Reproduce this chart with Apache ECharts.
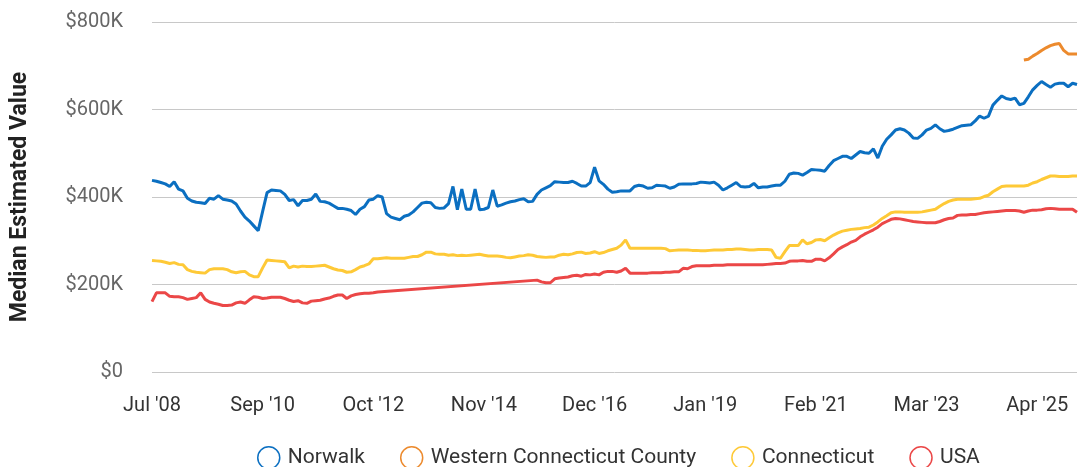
<!DOCTYPE html>
<html>
<head>
<meta charset="utf-8">
<title>Median Estimated Value</title>
<script src="https://cdn.jsdelivr.net/npm/echarts@6/dist/echarts.min.js"></script>
<style>
  html, body { margin: 0; padding: 0; background: #fff; }
  #chart { width: 1079px; height: 467px; }
</style>
</head>
<body>
<div id="chart"></div>
<script>
// monthly categories (Dec '09 is missing in the source)
const months = [
  "Jul '08", "Aug '08", "Sep '08", "Oct '08", "Nov '08", "Dec '08",
  "Jan '09", "Feb '09", "Mar '09", "Apr '09", "May '09", "Jun '09", "Jul '09", "Aug '09", "Sep '09", "Oct '09", "Nov '09",
  "Jan '10", "Feb '10", "Mar '10", "Apr '10", "May '10", "Jun '10", "Jul '10", "Aug '10", "Sep '10", "Oct '10", "Nov '10", "Dec '10",
  "Jan '11", "Feb '11", "Mar '11", "Apr '11", "May '11", "Jun '11", "Jul '11", "Aug '11", "Sep '11", "Oct '11", "Nov '11", "Dec '11",
  "Jan '12", "Feb '12", "Mar '12", "Apr '12", "May '12", "Jun '12", "Jul '12", "Aug '12", "Sep '12", "Oct '12", "Nov '12", "Dec '12",
  "Jan '13", "Feb '13", "Mar '13", "Apr '13", "May '13", "Jun '13", "Jul '13", "Aug '13", "Sep '13", "Oct '13", "Nov '13", "Dec '13",
  "Jan '14", "Feb '14", "Mar '14", "Apr '14", "May '14", "Jun '14", "Jul '14", "Aug '14", "Sep '14", "Oct '14", "Nov '14", "Dec '14",
  "Jan '15", "Feb '15", "Mar '15", "Apr '15", "May '15", "Jun '15", "Jul '15", "Aug '15", "Sep '15", "Oct '15", "Nov '15", "Dec '15",
  "Jan '16", "Feb '16", "Mar '16", "Apr '16", "May '16", "Jun '16", "Jul '16", "Aug '16", "Sep '16", "Oct '16", "Nov '16", "Dec '16",
  "Jan '17", "Feb '17", "Mar '17", "Apr '17", "May '17", "Jun '17", "Jul '17", "Aug '17", "Sep '17", "Oct '17", "Nov '17", "Dec '17",
  "Jan '18", "Feb '18", "Mar '18", "Apr '18", "May '18", "Jun '18", "Jul '18", "Aug '18", "Sep '18", "Oct '18", "Nov '18", "Dec '18",
  "Jan '19", "Feb '19", "Mar '19", "Apr '19", "May '19", "Jun '19", "Jul '19", "Aug '19", "Sep '19", "Oct '19", "Nov '19", "Dec '19",
  "Jan '20", "Feb '20", "Mar '20", "Apr '20", "May '20", "Jun '20", "Jul '20", "Aug '20", "Sep '20", "Oct '20", "Nov '20", "Dec '20",
  "Jan '21", "Feb '21", "Mar '21", "Apr '21", "May '21", "Jun '21", "Jul '21", "Aug '21", "Sep '21", "Oct '21", "Nov '21", "Dec '21",
  "Jan '22", "Feb '22", "Mar '22", "Apr '22", "May '22", "Jun '22", "Jul '22", "Aug '22", "Sep '22", "Oct '22", "Nov '22", "Dec '22",
  "Jan '23", "Feb '23", "Mar '23", "Apr '23", "May '23", "Jun '23", "Jul '23", "Aug '23", "Sep '23", "Oct '23", "Nov '23", "Dec '23",
  "Jan '24", "Feb '24", "Mar '24", "Apr '24", "May '24", "Jun '24", "Jul '24", "Aug '24", "Sep '24", "Oct '24", "Nov '24", "Dec '24",
  "Jan '25", "Feb '25", "Mar '25", "Apr '25", "May '25", "Jun '25", "Jul '25", "Aug '25", "Sep '25", "Oct '25", "Nov '25", "Dec '25",
  "Jan '26"
]

// values in $K
const norwalk = [
  438, 436, 433, 430, 424, 435, 418, 414, 397, 391,
  388, 387, 385, 397, 395, 403, 395, 393, 391, 384,
  368, 354, 345, 334, 323, 367, 410, 416, 415, 414,
  406, 392, 394, 380, 392, 392, 395, 407, 390, 389,
  386, 380, 374, 374, 372, 369, 360, 372, 378, 393,
  395, 403, 400, 362, 354, 351, 348, 356, 359, 366,
  376, 386, 388, 387, 376, 374, 375, 385, 424, 371,
  418, 372, 372, 418, 371, 372, 376, 416, 379, 382,
  386, 389, 391, 394, 396, 389, 390, 406, 416, 421,
  426, 435, 434, 433, 433, 436, 431, 425, 425, 433,
  468, 437, 429, 418, 411, 412, 414, 414, 414, 424,
  427, 425, 420, 421, 427, 426, 425, 420, 423, 429,
  430, 430, 430, 431, 434, 433, 432, 434, 427, 416,
  421, 427, 433, 424, 423, 424, 431, 421, 423, 423,
  425, 427, 427, 436, 452, 455, 454, 450, 456, 463,
  462, 461, 459, 472, 483, 488, 493, 493, 488, 496,
  504, 501, 500, 510, 489, 516, 532, 542, 553, 556,
  553, 546, 535, 534, 542, 553, 557, 565, 556, 550,
  552, 555, 559, 563, 564, 565, 574, 585, 580, 585,
  610, 621, 631, 625, 623, 626, 611, 614, 629, 645,
  655, 664, 657, 651, 658, 660, 660, 652, 660, 657
]

// Western Connecticut County only has data from Jan '25
const westernStart = "Jan '25"
const westernCT = [713, 715, 722, 728, 735, 741, 746, 749, 751, 735, 727, 727, 727]

const connecticut = [
  255, 254, 253, 251, 248, 250, 246, 245, 234, 230,
  228, 227, 226, 234, 236, 236, 236, 234, 229, 227,
  229, 230, 222, 218, 218, 238, 256, 255, 254, 253,
  252, 238, 242, 240, 242, 241, 241, 242, 243, 244,
  240, 236, 233, 232, 228, 229, 234, 240, 243, 247,
  259, 259, 260, 261, 260, 260, 260, 260, 262, 264,
  264, 268, 274, 274, 270, 269, 269, 267, 268, 266,
  267, 266, 267, 268, 269, 267, 265, 265, 265, 264,
  262, 261, 263, 265, 266, 268, 267, 264, 263, 262,
  263, 263, 267, 269, 268, 270, 273, 274, 271, 272,
  275, 271, 273, 277, 280, 283, 290, 302, 283, 283,
  283, 283, 283, 283, 283, 283, 282, 277, 278, 279,
  279, 279, 278, 278, 277, 277, 278, 279, 279, 279,
  280, 280, 281, 281, 280, 279, 279, 280, 280, 280,
  279, 262, 260, 275, 289, 289, 289, 302, 293, 296,
  302, 303, 300, 307, 313, 318, 322, 324, 326, 327,
  328, 330, 331, 336, 343, 351, 357, 364, 366, 366,
  365, 365, 365, 365, 366, 368, 370, 372, 379, 385,
  390, 393, 395, 395, 395, 395, 396, 397, 401, 404,
  412, 418, 424, 425, 425, 425, 425, 425, 427, 432,
  435, 440, 444, 448, 448, 447, 447, 447, 448, 448
]

// USA has a gap (Dec '12 - Aug '15) drawn as a straight line
const usa = [
  161, 181, 181, 181, 173, 172, 172, 170, 166, 168,
  170, 181, 166, 160, 157, 155, 152, 152, 153, 158,
  160, 157, 165, 172, 171, 168, 169, 171, 171, 171,
  168, 164, 161, 163, 158, 157, 162, 163, 164, 167,
  169, 173, 176, 176, 168, 174, 177, 179, 180, 180,
  181, 183, null, null, null, null, null, null, null, null,
  null, null, null, null, null, null, null, null, null, null,
  null, null, null, null, null, null, null, null, null, null,
  null, null, null, null, null, null, null, 210, 206, 204,
  204, 213, 215, 216, 217, 220, 221, 219, 223, 222,
  224, 222, 228, 230, 230, 228, 231, 237, 226, 226,
  226, 226, 226, 227, 227, 227, 228, 228, 229, 229,
  237, 236, 241, 243, 243, 243, 243, 244, 244, 244,
  245, 245, 245, 245, 245, 245, 245, 245, 245, 246,
  247, 248, 248, 249, 253, 254, 254, 255, 253, 253,
  258, 258, 254, 261, 270, 280, 286, 291, 297, 301,
  309, 315, 320, 325, 331, 339, 344, 349, 351, 350,
  348, 346, 344, 343, 342, 341, 341, 341, 344, 348,
  351, 352, 358, 359, 359, 360, 360, 362, 364, 365,
  366, 367, 368, 369, 369, 369, 368, 365, 368, 370,
  370, 371, 373, 374, 373, 372, 372, 372, 372, 365
]

const yTicks = [0, 200, 400, 600, 800]
const labelEvery = 25

const colors = {
  norwalk: '#0b6fc1',
  western: '#ec8a2d',
  connecticut: '#fec937',
  usa: '#eb4747',
}

const westernData = new Array(months.indexOf(westernStart)).fill(null).concat(westernCT)

const lineSeries = (name, data, color, extra) => Object.assign({
  name,
  type: 'line',
  data,
  showSymbol: false,
  symbol: 'circle',
  lineStyle: { color, width: 3 },
  itemStyle: { color, borderColor: color },
  emphasis: { disabled: true },
}, extra || {})

const chart = echarts.init(document.getElementById('chart'))

const option = {
  animation: false,
  backgroundColor: '#fff',
  textStyle: { fontFamily: 'Roboto, sans-serif' },
  grid: { left: 152, right: 2, top: 22, bottom: 95 },
  legend: {
    left: 252,
    top: 441,
    icon: 'circle',
    itemWidth: 22,
    itemHeight: 22,
    itemGap: 35,
    itemStyle: { color: '#fff', borderWidth: 1.5 },
    textStyle: { fontSize: 21, color: '#333', padding: [0, 0, 0, 3] },
    data: ['Norwalk', 'Western Connecticut County', 'Connecticut', 'USA'],
  },
  xAxis: {
    type: 'category',
    data: months,
    boundaryGap: false,
    axisLine: { show: false },
    axisTick: { show: false },
    axisLabel: {
      interval: (i) => i % labelEvery === 0,
      margin: 24,
      fontSize: 20,
      color: '#333',
    },
  },
  yAxis: {
    type: 'value',
    min: yTicks[0],
    max: yTicks[yTicks.length - 1],
    interval: 200,
    name: 'Median Estimated Value',
    nameLocation: 'middle',
    nameGap: 120,
    nameTextStyle: { fontSize: 23, fontWeight: 'bold', color: '#222' },
    axisLine: { show: false },
    axisTick: { show: false },
    axisLabel: {
      margin: 29,
      fontSize: 20,
      color: '#666',
      formatter: (v) => (v === 0 ? '$0' : '$' + v + 'K'),
    },
    splitLine: { lineStyle: { color: '#c8c8c8', width: 1 } },
  },
  series: [
    lineSeries('Norwalk', norwalk, colors.norwalk),
    lineSeries('Western Connecticut County', westernData, colors.western),
    lineSeries('Connecticut', connecticut, colors.connecticut),
    lineSeries('USA', usa, colors.usa, { connectNulls: true }),
  ],
}

chart.setOption(option)
</script>
</body>
</html>
